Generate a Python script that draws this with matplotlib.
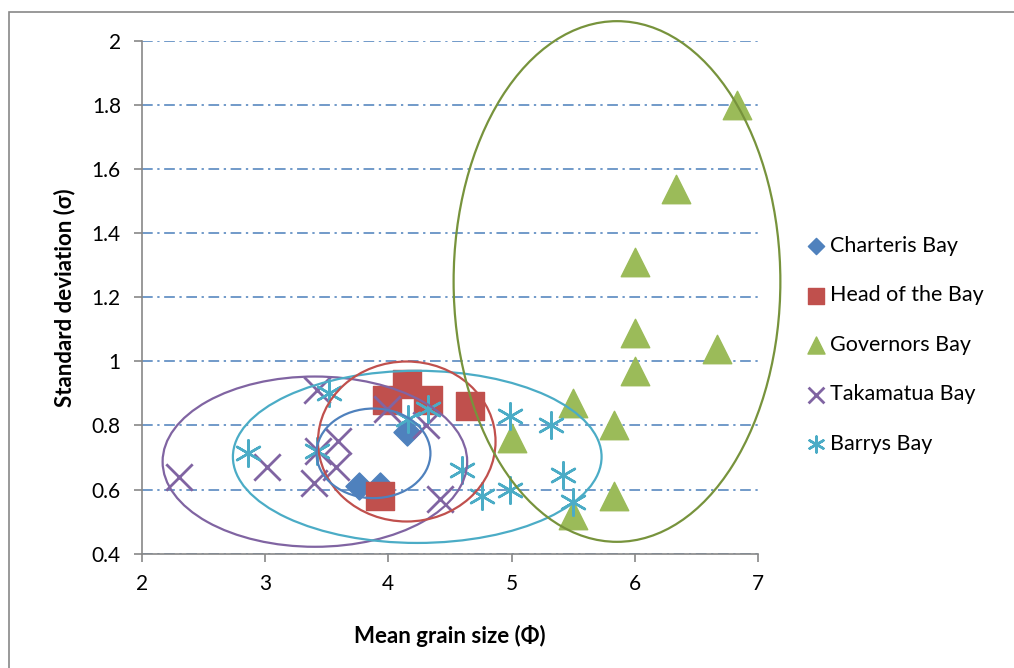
import matplotlib.pyplot as plt
from matplotlib.patches import Ellipse, Rectangle

plt.rcParams['font.family'] = ['Lato', 'DejaVu Sans']

# Data
charteris_x = [3.76, 3.93, 4.15]
charteris_y = [0.61, 0.61, 0.78]

head_x = [3.93, 3.99, 4.15, 4.32, 4.66]
head_y = [0.58, 0.88, 0.93, 0.88, 0.86]

governors_x = [5.0, 5.5, 5.5, 5.83, 5.83, 6.0, 6.0, 6.0, 6.33, 6.67, 6.83]
governors_y = [0.76, 0.87, 0.52, 0.80, 0.58, 0.97, 1.09, 1.31, 1.54, 1.04, 1.80]

takamatua_x = [2.3, 3.02, 3.42, 3.43, 3.40, 3.59, 3.58, 3.99, 4.31, 4.42]
takamatua_y = [0.64, 0.67, 0.91, 0.72, 0.62, 0.75, 0.67, 0.85, 0.80, 0.57]

barrys_x = [2.86, 3.52, 3.42, 4.16, 4.32, 4.60, 4.76, 4.99, 4.99, 5.32, 5.42, 5.50]
barrys_y = [0.715, 0.90, 0.72, 0.82, 0.85, 0.66, 0.58, 0.83, 0.60, 0.80, 0.645, 0.56]

# hand-drawn group ellipses: (centre x, centre y, width, height, colour)
ellipses = [
    (3.405, 0.687, 2.47, 0.532, '#8064A2'),
    (4.235, 0.702, 2.99, 0.538, '#4BACC6'),
    (4.15, 0.75, 1.44, 0.50, '#C0504D'),
    (3.88, 0.713, 0.924, 0.28, '#4F81BD'),
    (5.855, 1.25, 2.65, 1.627, '#77933C'),
]

fig = plt.figure(figsize=(10.14, 6.68), dpi=100)
ax = fig.add_axes([0.1397, 0.1714, 0.6080, 0.7665])

ax.scatter(charteris_x, charteris_y, marker='D', s=190, color='#4F81BD',
           label='Charteris Bay', zorder=3)
ax.scatter(head_x, head_y, marker='s', s=380, color='#C0504D',
           label='Head of the Bay', zorder=3)
ax.scatter(governors_x, governors_y, marker='^', s=420, color='#9BBB59',
           label='Governors Bay', zorder=3)
ax.scatter(takamatua_x, takamatua_y, marker='x', s=360, color='#8064A2',
           linewidths=2, label='Takamatua Bay', zorder=3)
ax.scatter(barrys_x, barrys_y, marker=(6, 2, 0), s=360, color='#4BACC6',
           linewidths=1.8, label='Barrys Bay', zorder=3)

for cx, cy, w, h, c in ellipses:
    ax.add_patch(Ellipse((cx, cy), w, h, fill=False, edgecolor=c,
                         linewidth=1.6, clip_on=False, zorder=4))

ax.set_xlim(2, 7)
ax.set_ylim(0.4, 2)
ax.set_xticks([2, 3, 4, 5, 6, 7])
ax.set_yticks([0.4, 0.6, 0.8, 1.0, 1.2, 1.4, 1.6, 1.8, 2.0])
ax.set_yticklabels(['0.4', '0.6', '0.8', '1', '1.2', '1.4', '1.6', '1.8', '2'])
ax.tick_params(labelsize=15, color='#888888', length=6, width=1.2, pad=9)
for s in ['top', 'right']:
    ax.spines[s].set_visible(False)
for s in ['left', 'bottom']:
    ax.spines[s].set_color('#888888')
    ax.spines[s].set_linewidth(1.2)
ax.grid(axis='y', linestyle=(0, (7, 3, 1.5, 3)), color='#4A7EBB', linewidth=1.1)
ax.set_axisbelow(True)

ax.set_xlabel('Mean grain size (Φ)', fontsize=16, fontweight='bold', labelpad=22)
ax.set_ylabel('Standard deviation (σ)', fontsize=16, fontweight='bold', labelpad=12)

leg = ax.legend(loc='center left', bbox_to_anchor=(0.785, 0.484),
                bbox_transform=fig.transFigure, frameon=False, fontsize=15.5,
                labelspacing=1.37, handletextpad=0.1, handlelength=1.1,
                markerscale=0.6, borderaxespad=0)

# outer chart frame (only left and top edges fall inside the image)
fig.add_artist(Rectangle((9 / 1014, -0.1), 1.2, 1 - 12 / 668 + 0.1,
                         transform=fig.transFigure, fill=False,
                         edgecolor='#888888', linewidth=1.2))

fig.savefig('out.png', dpi=100)
